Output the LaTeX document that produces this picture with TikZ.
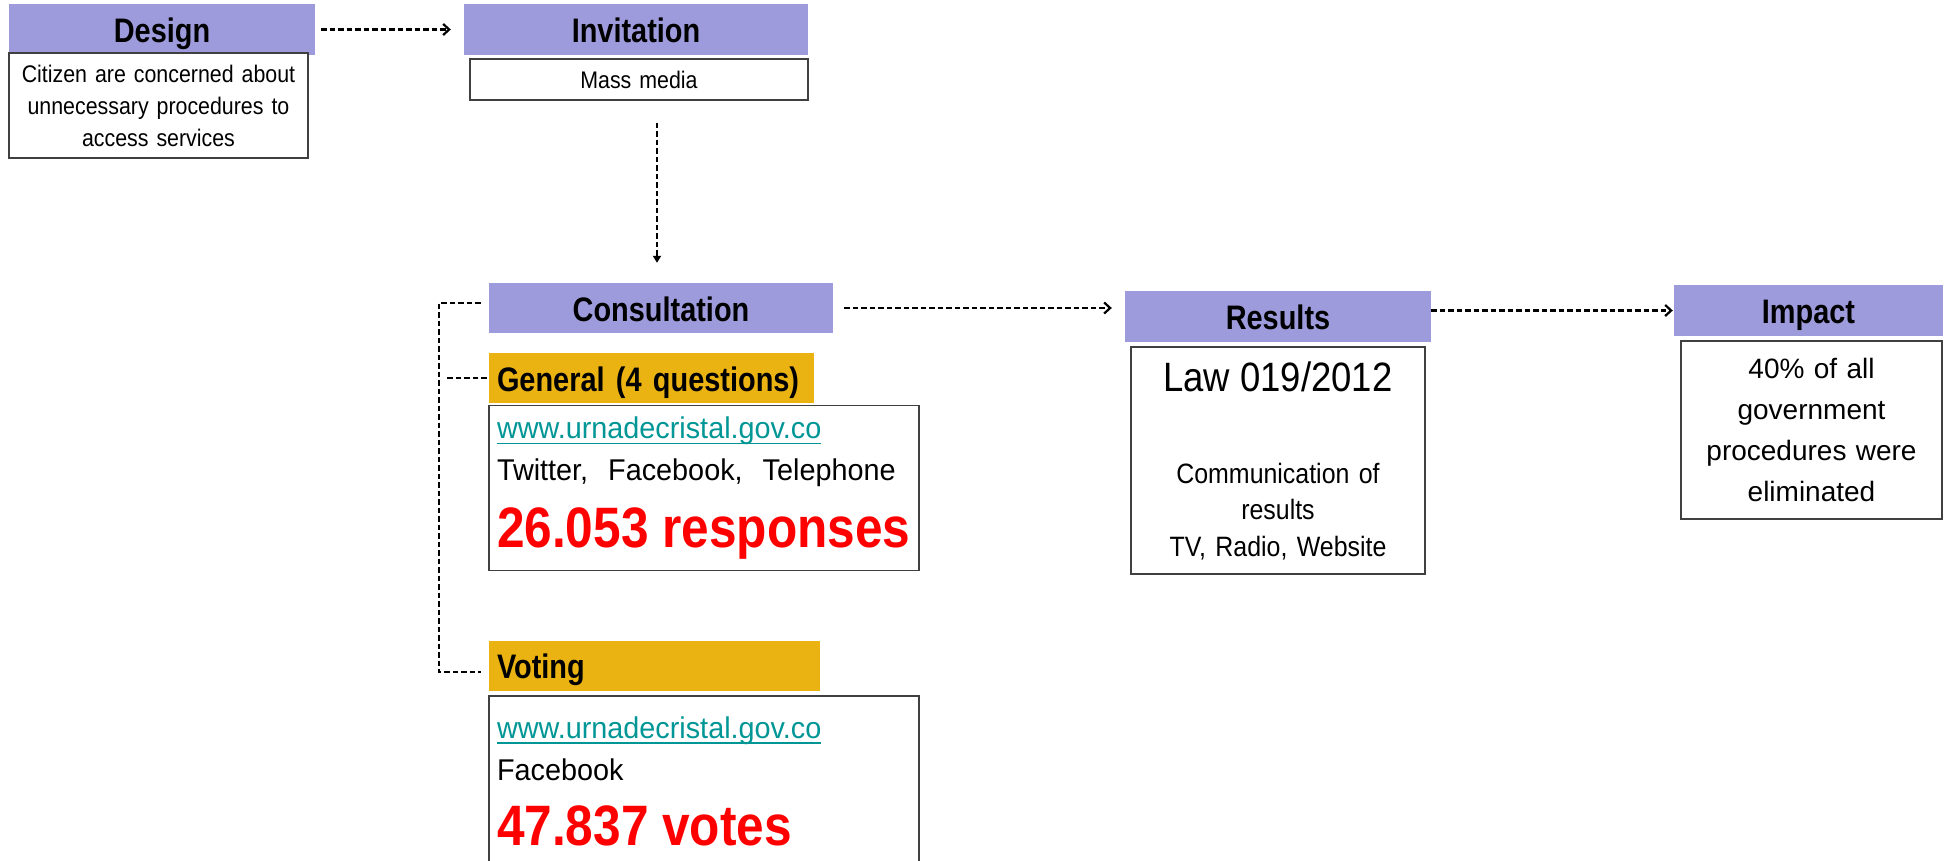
\documentclass[tikz,border=0pt]{standalone}
\usepackage{fontspec}
\setmainfont{Liberation Sans}
\newfontfamily\narrowfont{Liberation Sans}[FakeStretch=0.89]
\newfontfamily\headfont{Liberation Sans}[FakeStretch=0.85]
\newfontfamily\widefont{Liberation Sans}[FakeStretch=0.96]
\newfontfamily\bigfont{Liberation Sans}[FakeStretch=0.87]
\usepackage{xcolor}
\definecolor{hdlav}{RGB}{158,155,221}
\definecolor{hdgold}{RGB}{234,179,18}
\definecolor{urlteal}{RGB}{0,150,150}
\definecolor{numred}{RGB}{255,0,0}
\usetikzlibrary{arrows.meta, positioning, calc}
\newcommand{\ulink}[1]{\setbox0\hbox{#1}\rlap{\rule[-6pt]{\wd0}{1.6pt}}\box0}
\newcommand{\setsz}[2]{\fontsize{#1}{#2}\selectfont\spaceskip=\fontdimen2\font\relax}

\tikzset{
  hdbox/.style={fill=hdlav, inner sep=0pt, text height=26pt, text depth=0pt,
    font=\headfont\bfseries\fontsize{34}{40}\selectfont},
  goldbox/.style={fill=hdgold, inner xsep=8pt, inner ysep=0pt, align=left,
    text height=26pt, text depth=0pt, minimum height=50pt,
    font=\headfont\bfseries\fontsize{34}{40}\selectfont},
  txtbox/.style={draw=black!75, line width=1.5pt, fill=white, inner sep=0pt, align=center},
  link/.style={line width=2.2pt, dash pattern=on 5.5pt off 3pt},
  flow/.style={link, -{Straight Barb[length=6pt,width=11pt,line width=2.2pt]}}
}

\begin{document}
\begin{tikzpicture}[x=1pt, y=-1pt]
  \useasboundingbox (0,0) rectangle (1947,860);

  % Design
  \node[hdbox, minimum width=306pt, minimum height=51pt] (design) at (162,29.5) {Design};
  \node[txtbox, text width=299pt, minimum height=105pt,
        font=\narrowfont\fontsize{24}{32}\selectfont] (desbody) at (158.5,105.5)
       {Citizen are concerned about\\ unnecessary procedures to\\ access services};

  % Invitation
  \node[hdbox, minimum width=344pt, minimum height=51pt] (invite) at (636,29.5) {Invitation};
  \node[txtbox, text width=338pt, minimum height=41pt,
        font=\narrowfont\fontsize{24}{32}\selectfont] (invbody) at (639,79.5) {Mass media};

  % Consultation
  \node[hdbox, minimum width=344pt, minimum height=50pt] (consult) at (661,308) {Consultation};

  \node[goldbox, text width=309pt] (general) at (651.5,378) {General (4 questions)};
  \node[txtbox, align=left, inner xsep=8pt, text width=414pt, minimum height=165pt,
        font=\widefont\fontsize{30}{42}\selectfont] (genbody) at (704,488)
       {{\color{urlteal}\ulink{www.urnadecristal.gov.co}}\\
        Twitter,\ \ Facebook,\ \ Telephone\par
        {\bigfont\bfseries\setsz{57}{67}\color{numred}26.053 responses\par}};

  \node[goldbox, text width=315pt] (vote) at (654.5,665.5) {Voting};
  \node[txtbox, align=left, inner xsep=8pt, text width=414pt, minimum height=170pt,
        font=\widefont\fontsize{30}{42}\selectfont] (votebody) at (704,781)
       {{\color{urlteal}\ulink{www.urnadecristal.gov.co}}\\
        Facebook\par
        {\bigfont\bfseries\setsz{57}{65}\color{numred}47.837 votes\par}};

  % Results
  \node[hdbox, minimum width=306pt, minimum height=51pt] (results) at (1278,316.5) {Results};
  \node[txtbox, text width=294pt, minimum height=227pt,
        font=\narrowfont\fontsize{28}{36.5}\selectfont] (resbody) at (1278,460.5)
       {{\setsz{41}{48}Law 019/2012\par}\vspace{55.5pt}%
        Communication of\\ results\\ TV, Radio, Website\par};

  % Impact
  \node[hdbox, minimum width=269pt, minimum height=51pt] (impact) at (1808.5,310.5) {Impact};
  \node[txtbox, text width=261pt, minimum height=178pt,
        font=\fontsize{28}{41.3}\selectfont] (impbody) at (1811.5,430)
       {40\% of all\\ government\\ procedures were\\ eliminated};

  % connectors
  \draw[flow, shorten <=6pt, shorten >=13pt] (design.east) -- (invite.west);
  \draw[link, -{Triangle[length=7pt,width=8pt]}] ([xshift=18pt,yshift=-22pt]invbody.south) -- ([xshift=-4pt,yshift=20pt]consult.north);
  \draw[flow, shorten <=11pt, shorten >=13pt] (consult.east) -- (consult.east -| results.west);
  \draw[flow, shorten >=1pt] (results.east |- impact.west) -- (impact.west);

  % bracket
  \draw[link] ([xshift=-8pt,yshift=5pt]consult.west) -- ++(-42,0) |- ([xshift=-8pt,yshift=-6.5pt]vote.west);
  \draw[link] ([xshift=-2pt]general.west) -- ++(-41,0);
\end{tikzpicture}
\end{document}
